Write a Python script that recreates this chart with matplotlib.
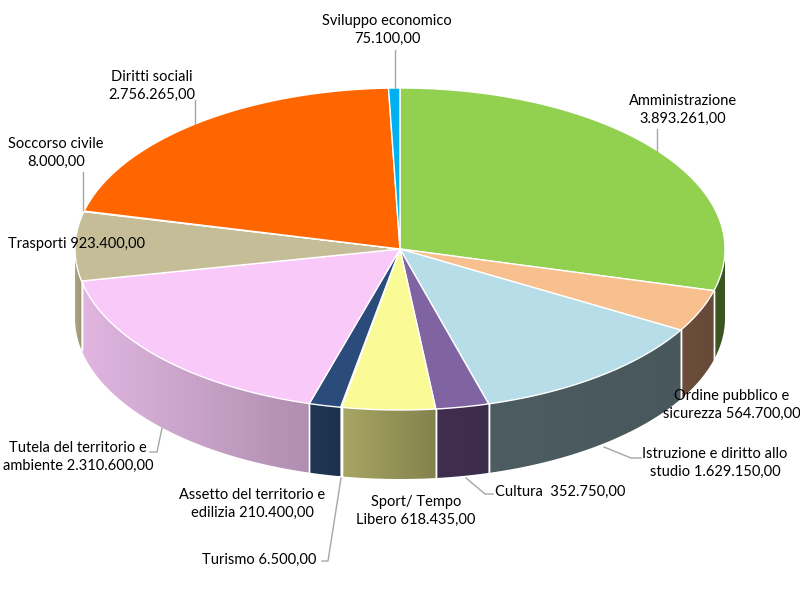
import numpy as np
import matplotlib.pyplot as plt
from matplotlib.patches import Polygon
import matplotlib.colors as mcolors

plt.rcParams['font.family'] = ['Lato', 'DejaVu Sans']

# data (clockwise from 12 o'clock)
labels = ['Amministrazione', 'Ordine pubblico e\nsicurezza', 'Istruzione e diritto allo\nstudio',
          'Cultura ', 'Sport/ Tempo\nLibero', 'Turismo', 'Assetto del territorio e\nedilizia',
          'Tutela del territorio e\nambiente', 'Trasporti', 'Soccorso civile', 'Diritti sociali',
          'Sviluppo economico']
values = [3893261, 564700, 1629150, 352750, 618435, 6500, 210400,
          2310600, 923400, 8000, 2756265, 75100]
value_text = ['3.893.261,00', '564.700,00', '1.629.150,00', '352.750,00', '618.435,00', '6.500,00',
              '210.400,00', '2.310.600,00', '923.400,00', '8.000,00', '2.756.265,00', '75.100,00']

top_colors = ['#92D050', '#F8BF8F', '#B7DDE8', '#8064A2', '#FAFA96', '#4F6228', '#2B4C7A',
              '#F9C9FA', '#C4BD97', '#E46C0A', '#FF6600', '#00B0F0']
side_colors = ['#3D5522', '#6A4B39', '#4A5A5E', '#3F2D4D', '#959458', '#2E3A18', '#1F3451',
               '#C8A2C8', '#A39D7D', '#8A4206', '#B04600', '#007AA8']
side_shade = [0.05, 0.05, 0.06, 0.06, 0.24, 0.1, 0.1, 0.24, 0.1, 0.1, 0.1, 0.1]

# geometry in pixels
cx, cy, rx, ry, depth = 400, 249, 325, 161, 69

fig = plt.figure(figsize=(8, 5.93), dpi=100)
ax = fig.add_axes([0, 0, 1, 1])


def ell(t, dy=0):
    t = np.radians(t)
    return cx + rx * np.cos(t), cy - ry * np.sin(t) + dy


frac = np.array(values) / sum(values)
ends = 90 - 360 * np.cumsum(frac)
starts = ends + 360 * frac

# side walls (front half only: -180 .. 0), gradient light -> dark
for i in range(len(values)):
    lo = max(ends[i], -180)
    hi = min(starts[i], 0)
    if lo >= hi:
        continue
    base = np.array(mcolors.to_rgb(side_colors[i]))
    a = np.linspace(lo, hi, max(4, int((hi - lo) * 3)))
    x, y = ell(a)
    xb, yb = ell(a[::-1], depth)
    poly = Polygon(np.column_stack([np.r_[x, xb], np.r_[y, yb]]), closed=True,
                   fc='none', ec='none')
    ax.add_patch(poly)
    x0, x1 = min(x.min(), xb.min()), max(x.max(), xb.max())
    y0, y1 = min(y.min(), yb.min()), max(y.max(), yb.max())
    s = side_shade[i]
    g = np.linspace(1 + s / 2, 1 - s / 2, 64)
    img = np.clip(base[None, None, :] * g[None, :, None], 0, 1)
    im = ax.imshow(img, extent=[x0, x1, y1, y0], aspect='auto', interpolation='bilinear')
    im.set_clip_path(poly)
    for t in (lo, hi):
        if -180 < t < 0:
            xx, yy = ell(t)
            ax.plot([xx, xx], [yy, yy + depth], color='white', lw=1)

ax.set_xlim(0, 800)
ax.set_ylim(593, 0)
ax.axis('off')

# top faces
for i in range(len(values)):
    a = np.linspace(starts[i], ends[i], max(3, int(360 * frac[i])))
    x, y = ell(a)
    ax.add_patch(Polygon(np.column_stack([np.r_[cx, x], np.r_[cy, y]]),
                         closed=True, fc=top_colors[i], ec='white', lw=1))

# labels
lc = '#A6A6A6'
txt = dict(fontsize=10.5, color='black', linespacing=1.35)

ax.text(387, 30, labels[11] + '\n' + value_text[11], ha='center', va='center', **txt)
ax.plot([395, 395], [50, 88], color=lc, lw=1)

ax.text(683, 110, labels[0] + '\n' + value_text[0], ha='center', va='center', **txt)
ax.plot([657, 657], [129, 151], color=lc, lw=1)

ax.text(152, 86, labels[10] + '\n' + value_text[10], ha='center', va='center', **txt)
ax.plot([195, 195], [100, 124], color=lc, lw=1)

ax.text(56, 153, labels[9] + '\n' + value_text[9], ha='center', va='center', **txt)
ax.plot([83, 83], [172, 210], color=lc, lw=1)

ax.text(8, 244, labels[8] + ' ' + value_text[8], ha='left', va='center', **txt)

ax.text(78, 457, labels[7] + ' ' + value_text[7], ha='center', va='center', **txt)
ax.plot([150, 157, 162], [452, 452, 428], color=lc, lw=1)

ax.text(252, 504, labels[6] + ' ' + value_text[6], ha='center', va='center', **txt)

ax.text(316, 560, labels[5] + ' ' + value_text[5], ha='right', va='center', **txt)
ax.plot([322, 328, 341], [561, 561, 478], color=lc, lw=1)

ax.text(416, 511, labels[4] + ' ' + value_text[4], ha='center', va='center', **txt)

ax.text(495, 492, labels[3] + ' ' + value_text[3], ha='left', va='center', **txt)
ax.plot([466, 485, 493], [478, 494, 494], color=lc, lw=1)

ax.text(715, 463, labels[2] + ' ' + value_text[2], ha='center', va='center', **txt)
ax.plot([604, 631, 641], [447, 458, 458], color=lc, lw=1)

ax.text(732, 405, labels[1] + ' ' + value_text[1], ha='center', va='center', **txt)

fig.savefig('out.png', dpi=100)
